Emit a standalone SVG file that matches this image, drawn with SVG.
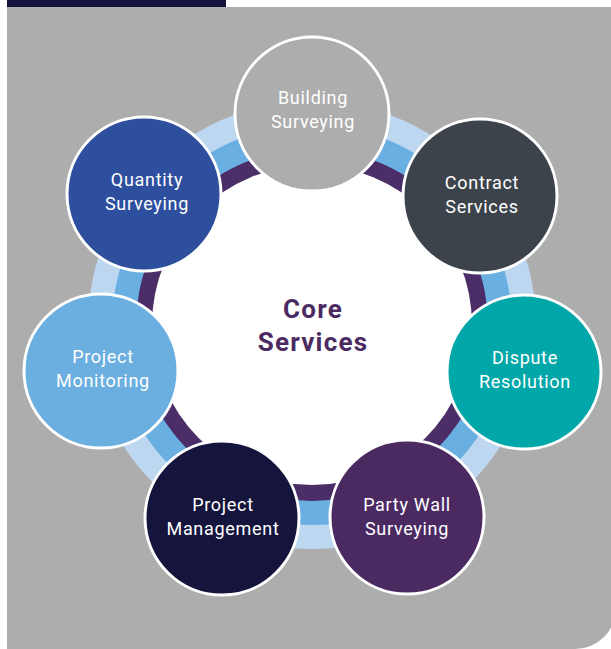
<svg xmlns="http://www.w3.org/2000/svg" width="611" height="649" viewBox="0 0 611 649">
<style>
.node{stroke:#ffffff;stroke-width:3}
.lbl{font-family:Roboto,"Liberation Sans",sans-serif;font-size:18px;letter-spacing:0.7px;fill:#ffffff;text-anchor:middle}
.core{font-family:Roboto,"Liberation Sans",sans-serif;font-size:26px;letter-spacing:1.2px;font-weight:bold;fill:#4b2a62;text-anchor:middle}
</style>
<rect x="0" y="0" width="611" height="649" fill="#ffffff"/>
<rect x="7" y="0" width="219" height="7" fill="#13133d"/>
<path d="M7 7 H616 V608 A41 41 0 0 1 575 649 H7 Z" fill="#adadad"/>
<g id="connectors">
<circle cx="312" cy="325" r="224" fill="#bdd7f1"/>
<circle cx="312" cy="325" r="200" fill="#6aafe1"/>
<circle cx="312" cy="325" r="176" fill="#4b2d68"/>
<circle cx="312" cy="325" r="160" fill="#ffffff"/>
</g>
<g id="core">
<text class="core" x="313" y="318">Core</text>
<text class="core" x="313" y="351">Services</text>
</g>
<g id="building">
<circle class="node" cx="312" cy="114" r="77" fill="#adadad"/>
<text class="lbl" x="313" y="104">Building</text>
<text class="lbl" x="313" y="128">Surveying</text>
</g>
<g id="contract">
<circle class="node" cx="480" cy="196" r="77" fill="#3d434b"/>
<text class="lbl" x="482" y="189">Contract</text>
<text class="lbl" x="482" y="213">Services</text>
</g>
<g id="dispute">
<circle class="node" cx="524" cy="372" r="77" fill="#00a7a8"/>
<text class="lbl" x="525" y="364">Dispute</text>
<text class="lbl" x="525" y="388">Resolution</text>
</g>
<g id="partywall">
<circle class="node" cx="407" cy="517" r="77" fill="#4b2a62"/>
<text class="lbl" x="407" y="511">Party Wall</text>
<text class="lbl" x="407" y="535">Surveying</text>
</g>
<g id="management">
<circle class="node" cx="222" cy="518" r="77" fill="#15143c"/>
<text class="lbl" x="223" y="511">Project</text>
<text class="lbl" x="223" y="535">Management</text>
</g>
<g id="monitoring">
<circle class="node" cx="101" cy="371" r="77" fill="#6aafe0"/>
<text class="lbl" x="103" y="363">Project</text>
<text class="lbl" x="103" y="387">Monitoring</text>
</g>
<g id="quantity">
<circle class="node" cx="144" cy="194" r="77" fill="#2d4f9e"/>
<text class="lbl" x="147" y="186">Quantity</text>
<text class="lbl" x="147" y="210">Surveying</text>
</g>
</svg>
